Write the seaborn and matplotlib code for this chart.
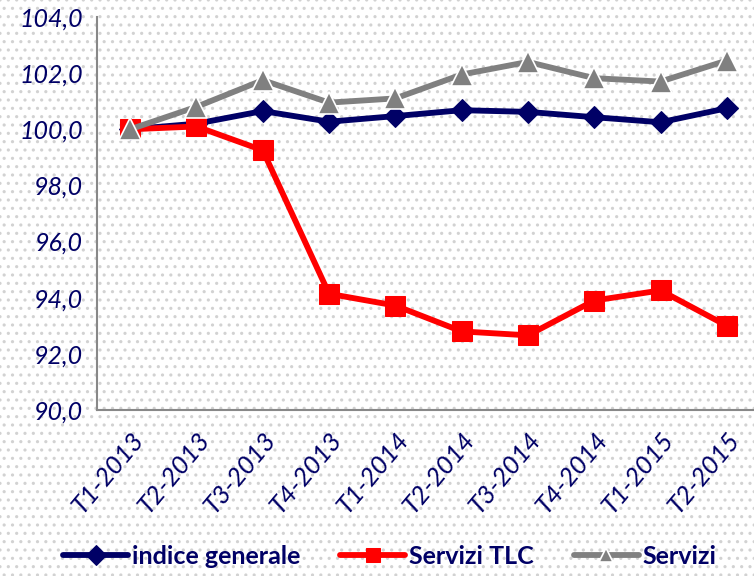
import matplotlib
matplotlib.use("Agg")
import matplotlib.pyplot as plt
import seaborn as sns
import pandas as pd
from matplotlib.patches import Rectangle
from matplotlib.ticker import FuncFormatter

periods = ["T1-2013", "T2-2013", "T3-2013", "T4-2013", "T1-2014",
           "T2-2014", "T3-2014", "T4-2014", "T1-2015", "T2-2015"]
indice_generale = [100.0, 100.2, 100.65, 100.27, 100.47, 100.68, 100.62, 100.43, 100.25, 100.75]
servizi_tlc = [100.0, 100.1, 99.25, 94.14, 93.72, 92.8, 92.66, 93.9, 94.26, 93.0]
servizi = [100.0, 100.8, 101.75, 100.95, 101.1, 101.95, 102.4, 101.82, 101.7, 102.45]

sns.set_theme(style="white")
plt.rcParams["font.family"] = ["Lato", "DejaVu Sans"]

navy = "#000066"
fig = plt.figure(figsize=(7.54, 5.76), dpi=100)
fig.patch.set_facecolor("white")
plt.rcParams["hatch.linewidth"] = 1.1
bg = Rectangle((0, 0), 1, 1, transform=fig.transFigure, facecolor="white",
               edgecolor="#d2d2d2", hatch="..", lw=0, zorder=-10)
fig.patches.append(bg)

ax = fig.add_axes([97/754, 1-410/576, (760-97)/754, (410-17)/576])
ax.patch.set_alpha(0)

x = list(range(len(periods)))
df = pd.DataFrame({"x": x, "ig": indice_generale, "tlc": servizi_tlc, "srv": servizi})

sns.lineplot(data=df, x="x", y="ig", ax=ax, color=navy, lw=4.2, marker="D",
             markersize=11, markeredgecolor=navy, label="indice generale", zorder=3)
sns.lineplot(data=df, x="x", y="tlc", ax=ax, color="#FF0000", lw=4.2, marker="s",
             markersize=15, markeredgecolor="#FF0000", label="Servizi TLC", zorder=4)
sns.lineplot(data=df, x="x", y="srv", ax=ax, color="#808080", lw=4.2, marker="^",
             markersize=16, markeredgecolor="white", markeredgewidth=1.2,
             label="Servizi", zorder=5)

ax.set_xlim(-0.5, 9.5)
ax.set_ylim(90, 104)
ax.set_yticks([90, 92, 94, 96, 98, 100, 102, 104])
ax.yaxis.set_major_formatter(FuncFormatter(lambda v, p: f"{v:.1f}".replace(".", ",")))
ax.set_xticks(x)
ax.set_xticklabels(periods, rotation=50, ha="right", rotation_mode="anchor")
ax.set_xlabel("")
ax.set_ylabel("")

for lab in ax.get_yticklabels():
    lab.set_color(navy)
    lab.set_fontstyle("italic")
    lab.set_fontsize(18)
for lab in ax.get_xticklabels():
    lab.set_color(navy)
    lab.set_fontstyle("italic")
    lab.set_fontsize(18.5)

ax.set_xticks([i - 0.5 for i in range(11)], minor=True)
ax.tick_params(axis="x", which="major", length=0, pad=13)
ax.tick_params(axis="x", which="minor", length=6, color="#888888", width=1.5, direction="out")
ax.tick_params(axis="y", length=6, color="#888888", width=1.5, direction="out", pad=4)

for s in ["top", "right"]:
    ax.spines[s].set_visible(False)
for s in ["left", "bottom"]:
    ax.spines[s].set_color("#888888")
    ax.spines[s].set_linewidth(1.5)

leg = ax.legend(loc="center", bbox_to_anchor=(390/754, 20/576), bbox_transform=fig.transFigure,
                ncol=3, frameon=False, handlelength=2.6, columnspacing=1.6, handletextpad=0.15,
                prop={"weight": "bold", "size": 18})
for t in leg.get_texts():
    t.set_color(navy)
for h in leg.legend_handles:
    h.set_markersize(10)

fig.savefig("out.png", dpi=100)
